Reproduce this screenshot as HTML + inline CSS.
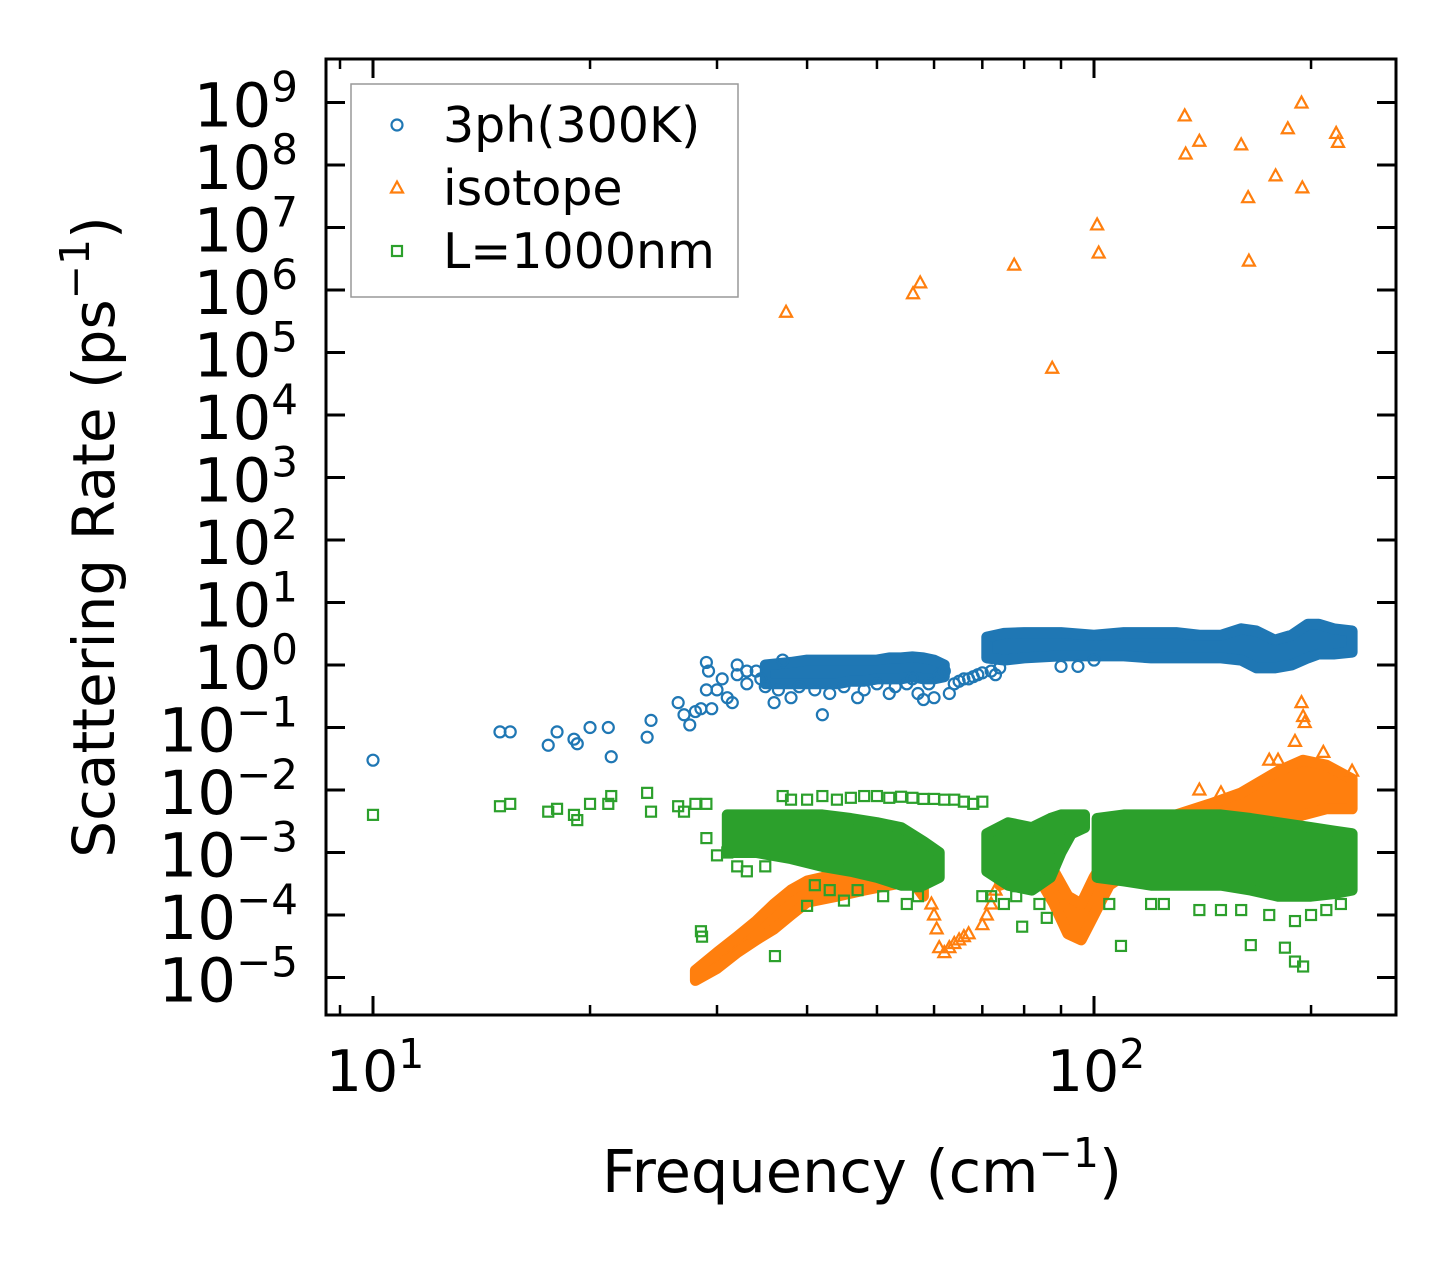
<!DOCTYPE html>
<html><head><meta charset="utf-8"><style>
html,body{margin:0;padding:0;background:#fff;}
svg{display:block;font-family:"DejaVu Sans","Liberation Sans",sans-serif;}
</style></head><body>
<svg id="chart" width="1455" height="1265" viewBox="0 0 1455 1265">
<rect x="0" y="0" width="1455" height="1265" fill="#fff"/>
<g id="plot"></g>
<g id="axes"></g>
</svg>
<script>
// ---- data ----
const xTicks = [10, 100];
const xTickLabels = ["1", "2"];
const yTicks = [1e-5,1e-4,1e-3,1e-2,1e-1,1,10,1e2,1e3,1e4,1e5,1e6,1e7,1e8,1e9];
const yTickExps = ["−5","−4","−3","−2","−1","0","1","2","3","4","5","6","7","8","9"];

// 3ph sparse points [freq, rate]
const ph3F = [10,15,15.5,17.5,18,19,19.2,20,21.2,21.4,24,24.3,26.5,27,27.5,28,28.5,29,29,29.2,29.5,30,30.5,31,31.5,32,32,33,34,36,38,42,47,52,57,58,60,63,64,65,66,67,68,69,70,72,73,74,90,95,100,
  33,34.5,35,36.5,37,39,41,43,45,48,50,53,55,56,59,61,62];
const ph3V = [0.03,0.085,0.085,0.052,0.085,0.065,0.055,0.1,0.1,0.034,0.07,0.13,0.25,0.16,0.11,0.18,0.2,0.4,1.1,0.8,0.2,0.4,0.6,0.3,0.25,0.7,1.0,0.5,0.8,0.25,0.3,0.16,0.3,0.35,0.35,0.28,0.3,0.35,0.5,0.55,0.6,0.6,0.65,0.7,0.75,0.8,0.7,0.9,0.95,0.95,1.2,
  0.8,0.6,0.45,0.4,1.2,0.45,0.4,0.35,0.45,0.4,0.5,0.45,0.5,0.6,0.5,0.7,0.8];
// 3ph dense bands [freq, low, high]
const ph3BandAF = [35,38,40,42,44,46,48,50,52,54,56,58,60,62];
const ph3BandALo = [0.5,0.5,0.5,0.5,0.5,0.55,0.55,0.6,0.6,0.6,0.65,0.6,0.6,0.65];
const ph3BandAHi = [1.0,1.1,1.2,1.2,1.2,1.2,1.2,1.2,1.3,1.3,1.35,1.3,1.2,1.0];
const ph3BandBF = [71,75,80,90,100,110,120,130,140,150,160,168,178,188,198,205,215,228];
const ph3BandBLo = [1.3,1.2,1.3,1.4,1.4,1.4,1.3,1.3,1.3,1.3,1.2,0.9,0.9,1.0,1.3,1.5,1.5,1.6];
const ph3BandBHi = [2.8,3.2,3.3,3.3,3.0,3.3,3.3,3.3,3.0,3.0,3.8,3.5,2.5,3.0,4.5,4.5,3.8,3.5];

// isotope sparse points
const isoF = [37.4,56.1,57.4,77.5,87.5,101,101.5,133.6,134,140,160,163.6,164,178.6,185.7,194,194.5,216.7,218,
  59.5,60,60.5,61,62,63,64,65,66,67,70,71,72,73,194,195,196,190,208,180,175,150,140,228];
const isoV = [4.4e5,8.7e5,1.3e6,2.5e6,5.6e4,1.1e7,3.9e6,6.1e8,1.5e8,2.4e8,2.1e8,3e7,2.9e6,6.7e7,3.8e8,9.8e8,4.3e7,3.2e8,2.3e8,
  1.5e-4,1e-4,6e-5,3e-5,2.5e-5,3e-5,3.5e-5,4e-5,4.5e-5,5e-5,7e-5,1e-4,1.5e-4,2.5e-4,0.25,0.15,0.12,0.06,0.04,0.03,0.03,0.009,0.01,0.02];
const isoBandAF = [28,30,32,34,36,38,40,44,48,52,56,58];
const isoBandALo = [9e-6,1.4e-5,2.5e-5,4e-5,6e-5,1e-4,1.6e-4,2e-4,2.5e-4,3e-4,3.5e-4,2e-4];
const isoBandAHi = [1.3e-5,2.5e-5,4.5e-5,8e-5,1.5e-4,2.5e-4,3.5e-4,4.5e-4,5e-4,6e-4,7e-4,6e-4];
const isoBandBF = [74,80,85,88,92,96,100,105,115,130,145,160,180,195,210,228];
const isoBandBLo = [3e-4,4e-4,3e-4,1.5e-4,5e-5,4e-5,1e-4,3e-4,6e-4,1e-3,2e-3,2.5e-3,3e-3,4e-3,5e-3,5e-3];
const isoBandBHi = [6e-4,8e-4,8e-4,5e-4,2e-4,1.5e-4,4e-4,1e-3,2e-3,4e-3,6e-3,9e-3,2e-2,3e-2,2.5e-2,1.5e-2];

// L=1000nm sparse points
const bndF = [10,15,15.5,17.5,18,19,19.2,20,21.2,21.4,24,24.3,26.5,27,28,29,29,28.5,28.6,30,31,
  37,38,40,42,44,46,48,50,52,54,56,58,60,62,64,66,68,70,36.1,40,45,79.5,86,109,165,184,190,195,55,70,120,150,200,
  32,33,35,41,43,47,51,57,72,75,78,84,105,125,140,160,175,190,210,220];
const bndV = [0.004,0.0055,0.006,0.0045,0.005,0.004,0.0033,0.006,0.006,0.008,0.009,0.0045,0.0055,0.0045,0.006,0.0017,0.006,5.5e-5,4.5e-5,0.0009,0.001,
  0.008,0.007,0.007,0.008,0.007,0.0075,0.008,0.008,0.0075,0.0078,0.0075,0.0072,0.0072,0.007,0.007,0.0065,0.006,0.0065,2.2e-5,1.4e-4,1.7e-4,6.5e-5,9e-5,3.2e-5,3.3e-5,3e-5,1.8e-5,1.5e-5,1.5e-4,2e-4,1.5e-4,1.2e-4,1e-4,
  6e-4,5e-4,6e-4,3e-4,2.5e-4,2.5e-4,2e-4,2e-4,2e-4,1.5e-4,2e-4,1.5e-4,1.5e-4,1.5e-4,1.2e-4,1.2e-4,1e-4,8e-5,1.2e-4,1.5e-4];
const bndBandAF = [31,34,38,42,46,50,54,58,61];
const bndBandALo = [1e-3,1e-3,8e-4,6e-4,5e-4,4e-4,3e-4,3e-4,4e-4];
const bndBandAHi = [4e-3,4e-3,4e-3,4e-3,3.5e-3,3e-3,2.5e-3,1.5e-3,1e-3];
const bndBandBF = [71,76,82,87,90,93,97];
const bndBandBLo = [5e-4,3e-4,2.5e-4,4e-4,1e-3,2e-3,2.5e-3];
const bndBandBHi = [2e-3,3e-3,2.5e-3,3.5e-3,4e-3,4e-3,4e-3];
const bndBandCF = [101,110,120,135,150,165,180,200,215,228];
const bndBandCLo = [4e-4,3.5e-4,3e-4,3e-4,3e-4,2.5e-4,2e-4,2e-4,2.2e-4,2.5e-4];
const bndBandCHi = [3.5e-3,4e-3,4e-3,4e-3,4e-3,3.5e-3,3e-3,2.5e-3,2.2e-3,2e-3];

// ---- axes functions ----
const L=326, R=1396, T=59, B=1015;
function xs(f){ return 373 + 721*(Math.log10(f)-1); }
function ys(v){ return 665 - 62.5*Math.log10(v); }

const NS="http://www.w3.org/2000/svg";
const plot=document.getElementById('plot');
const axes=document.getElementById('axes');
function mk(tag, attrs, parent){ const e=document.createElementNS(NS,tag); for(const k in attrs) e.setAttribute(k,attrs[k]); parent.appendChild(e); return e; }

const C_BLUE="#1f77b4", C_OR="#ff7f0e", C_GR="#2ca02c";

function band(F,Lo,Hi,color,name){
  let pts=[];
  for(let i=0;i<F.length;i++) pts.push(xs(F[i]).toFixed(1)+","+ys(Hi[i]).toFixed(1));
  for(let i=F.length-1;i>=0;i--) pts.push(xs(F[i]).toFixed(1)+","+ys(Lo[i]).toFixed(1));
  const p=mk('polygon',{points:pts.join(' '),fill:color,stroke:color,'stroke-width':11,'stroke-linejoin':'round'},plot);
  
  
}
function circle(x,y){ const e=mk('circle',{cx:x,cy:y,r:5.5,fill:'none',stroke:C_BLUE,'stroke-width':2.2},plot);
  
   }
function tri(x,y){ const e=mk('polygon',{points:`${x},${y-6.5} ${x+6},${y+4.5} ${x-6},${y+4.5}`,fill:'none',stroke:C_OR,'stroke-width':2.2},plot);
  
   }
function sq(x,y){ const e=mk('rect',{x:x-5,y:y-5,width:10,height:10,fill:'none',stroke:C_GR,'stroke-width':2.2},plot);
  
   }

band(ph3BandAF,ph3BandALo,ph3BandAHi,C_BLUE,'band-3ph-a');
band(ph3BandBF,ph3BandBLo,ph3BandBHi,C_BLUE,'band-3ph-b');
for(let i=0;i<ph3F.length;i++) circle(xs(ph3F[i]),ys(ph3V[i]));
band(isoBandAF,isoBandALo,isoBandAHi,C_OR,'band-isotope-a');
band(isoBandBF,isoBandBLo,isoBandBHi,C_OR,'band-isotope-b');
for(let i=0;i<isoF.length;i++) tri(xs(isoF[i]),ys(isoV[i]));
band(bndBandAF,bndBandALo,bndBandAHi,C_GR,'band-boundary-a');
band(bndBandBF,bndBandBLo,bndBandBHi,C_GR,'band-boundary-b');
band(bndBandCF,bndBandCLo,bndBandCHi,C_GR,'band-boundary-c');
for(let i=0;i<bndF.length;i++) sq(xs(bndF[i]),ys(bndV[i]));

const fr=mk('rect',{x:L,y:T,width:R-L,height:B-T,fill:'none',stroke:'#000','stroke-width':3},axes);
 

// y ticks
for(let i=0;i<yTicks.length;i++){
  const y=ys(yTicks[i]);
  mk('line',{x1:L,y1:y,x2:L+19,y2:y,stroke:'#000','stroke-width':3},axes);
  mk('line',{x1:R,y1:y,x2:R-19,y2:y,stroke:'#000','stroke-width':3},axes);
  const t=mk('text',{x:298,y:y+24,'text-anchor':'end','font-size':61,fill:'#000'},axes);
  
  
  t.appendChild(document.createTextNode('10'));
  const s=document.createElementNS(NS,'tspan'); s.setAttribute('font-size','42'); s.setAttribute('dy','-25'); s.textContent=yTickExps[i]; t.appendChild(s);
}
const minorX=[9,20,30,40,50,60,70,80,90,200];
for(const f of minorX){ const x=xs(f);
  mk('line',{x1:x,y1:B,x2:x,y2:B-10,stroke:'#000','stroke-width':2.5},axes);
  mk('line',{x1:x,y1:T,x2:x,y2:T+10,stroke:'#000','stroke-width':2.5},axes); }
for(let i=0;i<xTicks.length;i++){ const x=xs(xTicks[i]);
  mk('line',{x1:x,y1:B,x2:x,y2:B-19,stroke:'#000','stroke-width':3},axes);
  mk('line',{x1:x,y1:T,x2:x,y2:T+19,stroke:'#000','stroke-width':3},axes);
  const t=mk('text',{x:x+2,y:1091,'text-anchor':'middle','font-size':57,fill:'#000'},axes);
  
  
  t.appendChild(document.createTextNode('10'));
  const s=document.createElementNS(NS,'tspan'); s.setAttribute('font-size','41'); s.setAttribute('dy','-23'); s.textContent=xTickLabels[i]; t.appendChild(s);
}
</script>
<script>
const svg=document.getElementById('chart');
svg.insertAdjacentHTML('beforeend', `
<text x="862" y="1192" text-anchor="middle" font-size="59" fill="#000">Frequency (cm<tspan font-size="41" dy="-25">−1</tspan><tspan dy="25">)</tspan></text>
<text transform="translate(114,537) rotate(-90)" text-anchor="middle" font-size="58" fill="#000">Scattering Rate (ps<tspan font-size="41" dy="-25">−1</tspan><tspan dy="25">)</tspan></text>
<g>
<rect x="351" y="84" width="387" height="213" fill="#fff" fill-opacity="0.85" stroke="#999" stroke-width="1.5"/>
<circle cx="397" cy="125" r="5.5" fill="none" stroke="#1f77b4" stroke-width="2.2"/>
<text x="443" y="142" font-size="49" fill="#000">3ph(300K)</text>
<polygon points="397,181.5 403,192.5 391,192.5" fill="none" stroke="#ff7f0e" stroke-width="2.2"/>
<text x="443" y="205" font-size="49" fill="#000">isotope</text>
<rect x="392" y="246" width="10" height="10" fill="none" stroke="#2ca02c" stroke-width="2.2"/>
<text x="443" y="268" font-size="49" fill="#000">L=1000nm</text>
</g>`);
</script>
</body></html>
